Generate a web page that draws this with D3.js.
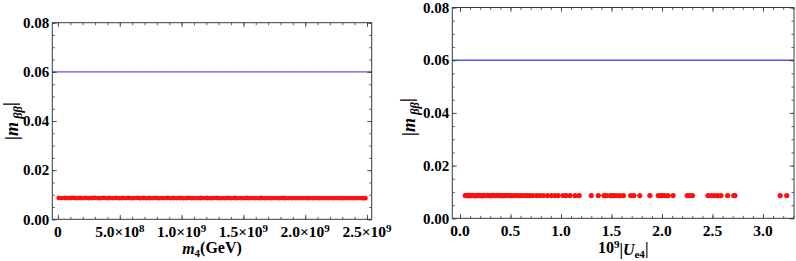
<!DOCTYPE html>
<html><head><meta charset="utf-8">
<script src="https://cdn.jsdelivr.net/npm/d3@7"></script>
<style>
body{margin:0;background:#fff}
svg text{font-family:"Liberation Serif","Times New Roman",serif;font-weight:bold;fill:#000}
</style></head><body>
<svg id="c" width="796" height="261"></svg>
<script>
// ---- data (left: m4 in units of 1e9 GeV; right: 1e9|Ue4|) ----
const leftM4 = [0.006,0.029,0.055,0.078,0.104,0.127,0.151,0.178,0.200,0.227,
0.249,0.276,0.298,0.325,0.347,0.372,0.398,0.421,0.447,0.470,
0.496,0.519,0.545,0.568,0.594,0.617,0.643,0.666,0.692,0.715,
0.741,0.764,0.790,0.813,0.839,0.862,0.888,0.911,0.937,0.960,
0.986,1.009,1.035,1.058,1.084,1.107,1.133,1.156,1.182,1.205,
1.231,1.254,1.280,1.303,1.329,1.352,1.378,1.401,1.427,1.450,
1.476,1.499,1.525,1.548,1.574,1.597,1.623,1.646,1.672,1.695,
1.721,1.744,1.770,1.793,1.819,1.842,1.868,1.891,1.917,1.940,
1.966,1.989,2.015,2.038,2.064,2.087,2.113,2.136,2.162,2.185,
2.211,2.234,2.260,2.283,2.309,2.332,2.358,2.381,2.407,2.430,
2.456,2.474,2.487];
const leftMbb = [0.00868,0.00862,0.00870,0.00858,0.00866,0.00871,0.00860,0.00867,0.00863,0.00869,
0.00859,0.00866,0.00872,0.00861,0.00865,0.00868,0.00858,0.00867,0.00862,0.00870,
0.00860,0.00866,0.00863,0.00869,0.00859,0.00864,0.00868,0.00861,0.00866,0.00858,
0.00867,0.00863,0.00869,0.00860,0.00865,0.00862,0.00868,0.00859,0.00866,0.00863,
0.00867,0.00860,0.00865,0.00869,0.00861,0.00864,0.00858,0.00867,0.00862,0.00866,
0.00860,0.00865,0.00868,0.00861,0.00864,0.00859,0.00866,0.00862,0.00867,0.00860,
0.00864,0.00858,0.00866,0.00861,0.00865,0.00863,0.00859,0.00866,0.00861,0.00864,
0.00858,0.00865,0.00862,0.00860,0.00866,0.00859,0.00863,0.00861,0.00865,0.00858,
0.00862,0.00864,0.00860,0.00863,0.00858,0.00865,0.00861,0.00859,0.00863,0.00860,
0.00862,0.00858,0.00864,0.00860,0.00861,0.00859,0.00863,0.00860,0.00858,0.00862,
0.00860,0.00861,0.00859];
const rightU = [0.052,0.061,0.068,0.075,0.083,0.090,0.097,0.104,0.112,0.119,
0.126,0.134,0.141,0.149,0.157,0.166,0.173,0.182,0.190,0.199,
0.207,0.216,0.224,0.233,0.243,0.252,0.262,0.271,0.281,0.291,
0.302,0.313,0.323,0.335,0.347,0.359,0.371,0.384,0.396,0.409,
0.423,0.437,0.452,0.468,0.484,0.500,0.517,0.541,0.560,0.585,
0.610,0.640,0.660,0.688,0.720,0.757,0.790,0.826,0.866,0.905,
0.940,0.972,1.020,1.052,1.090,1.140,1.180,1.300,1.370,1.425,
1.452,1.488,1.505,1.521,1.548,1.582,1.618,1.690,1.722,1.780,
1.880,1.963,1.985,2.000,2.025,2.060,2.110,2.250,2.275,2.302,
2.455,2.488,2.515,2.550,2.585,2.650,2.710,2.722,3.170,3.235];
const rightMbb = [0.00866,0.00862,0.00868,0.00864,0.00860,0.00867,0.00863,0.00869,0.00861,0.00865,
0.00868,0.00862,0.00866,0.00860,0.00864,0.00867,0.00861,0.00865,0.00869,0.00863,
0.00866,0.00860,0.00864,0.00868,0.00862,0.00865,0.00861,0.00867,0.00863,0.00866,
0.00860,0.00864,0.00868,0.00862,0.00865,0.00861,0.00867,0.00863,0.00866,0.00860,
0.00864,0.00862,0.00866,0.00861,0.00865,0.00863,0.00860,0.00866,0.00862,0.00864,
0.00861,0.00865,0.00863,0.00862,0.00864,0.00861,0.00863,0.00865,0.00862,0.00864,
0.00861,0.00863,0.00865,0.00862,0.00864,0.00860,0.00863,0.00862,0.00864,0.00861,
0.00863,0.00862,0.00864,0.00861,0.00863,0.00860,0.00862,0.00864,0.00861,0.00863,
0.00862,0.00864,0.00861,0.00863,0.00862,0.00860,0.00863,0.00862,0.00861,0.00863,
0.00862,0.00864,0.00861,0.00860,0.00863,0.00862,0.00864,0.00861,0.00862,0.00863];
const boundValue = 0.06;
const yTicks = [0, 0.02, 0.04, 0.06, 0.08];
const yTickLabels = ["0.00","0.02","0.04","0.06","0.08"];
const leftXTicks = [0, 0.5, 1.0, 1.5, 2.0, 2.5];
const leftXTickLabels = [["0",""],["5.0×10","8"],["1.0×10","9"],["1.5×10","9"],["2.0×10","9"],["2.5×10","9"]];
const rightXTicks = [0, 0.5, 1.0, 1.5, 2.0, 2.5, 3.0];
const rightXTickLabels = ["0.0","0.5","1.0","1.5","2.0","2.5","3.0"];

const svg = d3.select("#c");
const FRAME = "#3a3a3a";

function panel(cfg){
  const g = svg.append("g");
  const x = d3.scaleLinear().domain(cfg.xDom).range([cfg.x0, cfg.x1]);
  const y = d3.scaleLinear().domain([0, 0.08]).range([cfg.y1, cfg.y0]);
  const clipId = "clip" + cfg.id;
  g.append("clipPath").attr("id", clipId).append("rect")
    .attr("x", cfg.x0).attr("y", cfg.y0).attr("width", cfg.x1 - cfg.x0).attr("height", cfg.y1 - cfg.y0);
  const inner = g.append("g").attr("clip-path", `url(#${clipId})`);
  inner.append("line")
    .attr("x1", cfg.x0).attr("x2", cfg.x1)
    .attr("y1", y(boundValue)).attr("y2", y(boundValue))
    .attr("stroke", "#5555f5").attr("stroke-width", 1.4);
  inner.selectAll("circle").data(d3.zip(cfg.xs, cfg.ys)).join("circle")
    .attr("cx", d => x(d[0])).attr("cy", d => y(d[1])).attr("r", cfg.r)
    .attr("fill", "#ff1010");

  // ticks (inward, all four sides)
  const minorX = d3.range(Math.ceil(cfg.xDom[0]/cfg.xMinor), Math.floor(cfg.xDom[1]/cfg.xMinor)+1).map(i => +(i*cfg.xMinor).toFixed(6));
  const minorY = d3.range(0, 17).map(i => +(i*0.005).toFixed(4));
  const mk = (axisFn, scale, vals, size, tr) => {
    const a = g.append("g").attr("transform", tr)
      .call(axisFn(scale).tickValues(vals).tickSize(size).tickFormat(""));
    a.select(".domain").remove();
    a.selectAll("line").attr("stroke", FRAME).attr("stroke-width", 0.8);
    return a;
  };
  mk(d3.axisBottom, x, minorX, -2.5, `translate(0,${cfg.y1})`);
  mk(d3.axisBottom, x, cfg.xTicks, -4.5, `translate(0,${cfg.y1})`);
  mk(d3.axisTop, x, minorX, -2.5, `translate(0,${cfg.y0})`);
  mk(d3.axisTop, x, cfg.xTicks, -4.5, `translate(0,${cfg.y0})`);
  mk(d3.axisLeft, y, minorY, -2.5, `translate(${cfg.x0},0)`);
  mk(d3.axisLeft, y, yTicks, -4.5, `translate(${cfg.x0},0)`);
  mk(d3.axisRight, y, minorY, -2.5, `translate(${cfg.x1},0)`);
  mk(d3.axisRight, y, yTicks, -4.5, `translate(${cfg.x1},0)`);

  g.append("rect").attr("x", cfg.x0).attr("y", cfg.y0)
    .attr("width", cfg.x1 - cfg.x0).attr("height", cfg.y1 - cfg.y0)
    .attr("fill", "none").attr("stroke", FRAME).attr("stroke-width", 1);

  // y tick labels
  g.selectAll(".ylab").data(yTicks).join("text").attr("class","ylab")
    .attr("x", cfg.x0 - 3).attr("y", d => y(d)).attr("dy", "0.35em")
    .attr("text-anchor", "end").style("font-size", "15px")
    .text((d,i) => yTickLabels[i]);

  // x tick labels
  const xl = g.selectAll(".xlab").data(cfg.xTicks).join("text").attr("class","xlab")
    .attr("x", d => x(d)).attr("y", cfg.xLabY)
    .attr("text-anchor", "middle").style("font-size", "15.5px");
  xl.each(function(d, i){
    const lab = cfg.xTickLabels[i];
    const t = d3.select(this);
    if (Array.isArray(lab)) {
      t.append("tspan").text(lab[0]);
      if (lab[1]) t.append("tspan").attr("dy", "-0.45em").style("font-size","11px").text(lab[1]);
    } else t.text(lab);
  });

  // y title
  const yt = g.append("text")
    .attr("transform", `translate(${cfg.yTitleX},${cfg.yTitleY}) rotate(-90)`)
    .attr("text-anchor", "middle").style("font-size", "18px");
  yt.append("tspan").text("|");
  yt.append("tspan").style("font-style","italic").text("m");
  yt.append("tspan").attr("dy","0.3em").style("font-style","italic").style("font-size","12.5px").text(" ββ");
  yt.append("tspan").attr("dy","-0.3em").text("|");

  cfg.xTitle(g.append("text").attr("x", (cfg.x0+cfg.x1)/2).attr("y", cfg.xTitleY)
    .attr("text-anchor","middle").style("font-size","16px"));
}

panel({
  id: "L", x0: 52.3, x1: 371.7, y0: 22.7, y1: 219.3, xDom: [-0.046, 2.538],
  xs: leftM4, ys: leftMbb, r: 2.4, xTicks: leftXTicks, xTickLabels: leftXTickLabels, xMinor: 0.1,
  xLabY: 237, yTitleX: 18, yTitleY: 121, xTitleY: 254,
  xTitle: t => {
    t.append("tspan").style("font-style","italic").text("m");
    t.append("tspan").attr("dy","0.3em").style("font-size","11px").text("4");
    t.append("tspan").attr("dy","-0.3em").text("(GeV)");
  }
});
panel({
  id: "R", x0: 452.3, x1: 794, y0: 7.5, y1: 218.3, xDom: [-0.076, 3.307],
  xs: rightU, ys: rightMbb, r: 2.6, xTicks: rightXTicks, xTickLabels: rightXTickLabels, xMinor: 0.1,
  xLabY: 236, yTitleX: 415, yTitleY: 117, xTitleY: 253,
  xTitle: t => {
    t.append("tspan").text("10");
    t.append("tspan").attr("dy","-0.45em").style("font-size","11px").text("9");
    t.append("tspan").attr("dy","0.45em").text("|");
    t.append("tspan").style("font-style","italic").text("U");
    t.append("tspan").attr("dy","0.25em").style("font-size","11px").text("e4");
    t.append("tspan").attr("dy","-0.25em").text("|");
  }
});
</script>
</body></html>
